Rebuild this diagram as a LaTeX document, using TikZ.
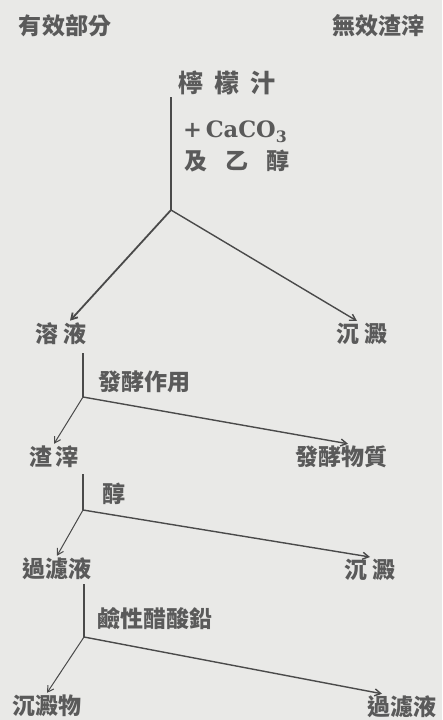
\documentclass[tikz,border=0pt]{standalone}
\usepackage{fontspec}
\newfontfamily\cjk{Noto Sans CJK TC}
\newfontfamily\heavy{DejaVu Serif}
\usetikzlibrary{arrows.meta}
\definecolor{paper}{HTML}{E9E9E7}
\definecolor{ink}{HTML}{5A5A5A}
\definecolor{lineclr}{HTML}{4A4A4A}
\newcommand\gp[1]{\hspace{#1pt}}
\begin{document}
\begin{tikzpicture}[x=1pt,y=-1pt,
  lbl/.style={text=ink, inner sep=2pt, font=\cjk\bfseries\fontsize{23}{23}\selectfont},
  big/.style={lbl, font=\cjk\bfseries\fontsize{25}{25}\selectfont},
  conn/.style={draw=lineclr, line width=1.4pt},
  arr/.style={conn, -{Straight Barb[length=6pt,width=7pt]}},
  thinline/.style={line width=1pt}]
\fill[paper] (0,0) rectangle (442,720);
\useasboundingbox (0,0) rectangle (442,720);
% nodes
\node[lbl] (eff) at (65,26) {有效部分};
\node[lbl] (ineff) at (378,26) {無效渣滓};
\node[big] (lemon) at (227,83) {檸\gp{11}檬\gp{11}汁};
\node[lbl, anchor=west, font=\heavy\bfseries\fontsize{22.5}{22.5}\selectfont] (reag) at (181,132) {+\,CaCO\textsubscript{3}};
\node[lbl, anchor=west] (reag2) at (182,161) {及\gp{18}乙\gp{18}醇};
\coordinate (b1) at (171,210);
\node[lbl] (sol) at (61,334) {溶\gp{5}液};
\node[lbl] (ppt1) at (362,334) {沉\gp{5}澱};
\coordinate (b2) at (83,397);
\node[lbl, anchor=west] (ferm) at (96,382) {發酵作用};
\node[lbl] (res) at (54,457) {渣\gp{3}滓};
\node[lbl] (fmat) at (341,457) {發酵物質};
\coordinate (b3) at (83,510);
\node[lbl, anchor=west] (alc) at (100,494) {醇};
\node[lbl] (filt1) at (57,569) {過濾液};
\node[lbl] (ppt2) at (370,570) {沉\gp{5}澱};
\coordinate (b4) at (84,637);
\node[lbl, anchor=west] (lead) at (95,619) {鹼性醋酸鉛};
\node[lbl] (ppt3) at (47,706) {沉澱物};
\node[lbl] (filt2) at (402,707) {過濾液};
% connectors
\draw[conn] (b1 |- lemon.south) -- (b1);
\draw[arr, line width=1.8pt] (b1) -- ([xshift=9pt]sol.north);
\draw[arr] (b1) -- ([xshift=-5pt]ppt1.north);
\draw[conn, shorten <=6pt] (b2 |- sol.south) -- (b2);
\draw[arr, thinline] (b2) -- (res.north);
\draw[arr] (b2) -- ([xshift=7pt]fmat.north);
\draw[conn, shorten <=4pt] (b3 |- res.south) -- (b3);
\draw[arr, thinline] (b3) -- (filt1.north);
\draw[arr] (b3) -- (ppt2.north);
\draw[conn, shorten <=2pt] (b4 |- filt1.south) -- (b4);
\draw[arr, thinline] (b4) -- (ppt3.north);
\draw[arr] (b4) -- ([xshift=-20pt]filt2.north);
\end{tikzpicture}
\end{document}
